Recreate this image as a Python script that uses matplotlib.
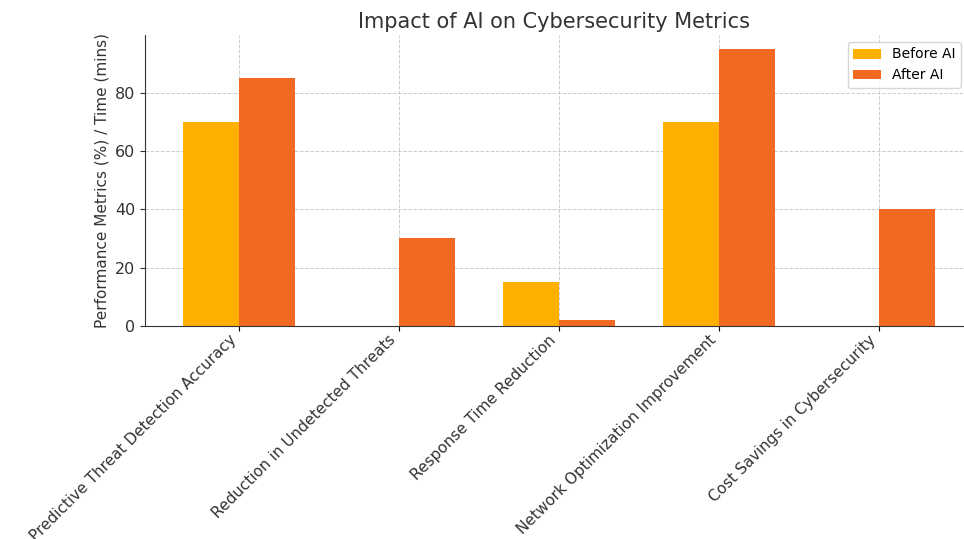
import numpy as np
import matplotlib
matplotlib.use("Agg")
import matplotlib.pyplot as plt

categories = ["Predictive Threat Detection Accuracy", "Reduction in Undetected Threats",
              "Response Time Reduction", "Network Optimization Improvement",
              "Cost Savings in Cybersecurity"]
before_ai = [70, 0, 15, 70, 0]
after_ai = [85, 30, 2, 95, 40]

fig = plt.figure(figsize=(9.64, 5.39), dpi=100)
ax = fig.add_axes([145/964, 213/539, 819/964, 291/539])

x = np.arange(len(categories))
w = 0.35
ax.bar(x - w/2, before_ai, w, color="#FFB000", label="Before AI", zorder=2)
ax.bar(x + w/2, after_ai, w, color="#F26A22", label="After AI", zorder=2)

ax.set_xlim(-0.5875, 4.53)
ax.set_ylim(0, 99.75)
ax.set_xticks(x)
ax.set_xticklabels(categories, rotation=45, ha="right", fontsize=11, color="#333333")
ax.tick_params(axis="x", pad=1)
ax.tick_params(axis="y", labelsize=11.5, colors="#333333")
ax.set_ylabel("Performance Metrics (%) / Time (mins)", fontsize=11, color="#333333")
ax.set_title("Impact of AI on Cybersecurity Metrics", fontsize=15, color="#333333", pad=5)
ax.grid(True, linestyle="--", color="#cccccc", linewidth=0.7, zorder=0)
ax.spines["top"].set_visible(False)
ax.spines["right"].set_visible(False)
ax.spines["left"].set_color("#333333")
ax.spines["bottom"].set_color("#333333")
ax.legend(loc="upper right", fontsize=10, bbox_to_anchor=(1.005, 1.0))

fig.savefig("out.png", dpi=100)
